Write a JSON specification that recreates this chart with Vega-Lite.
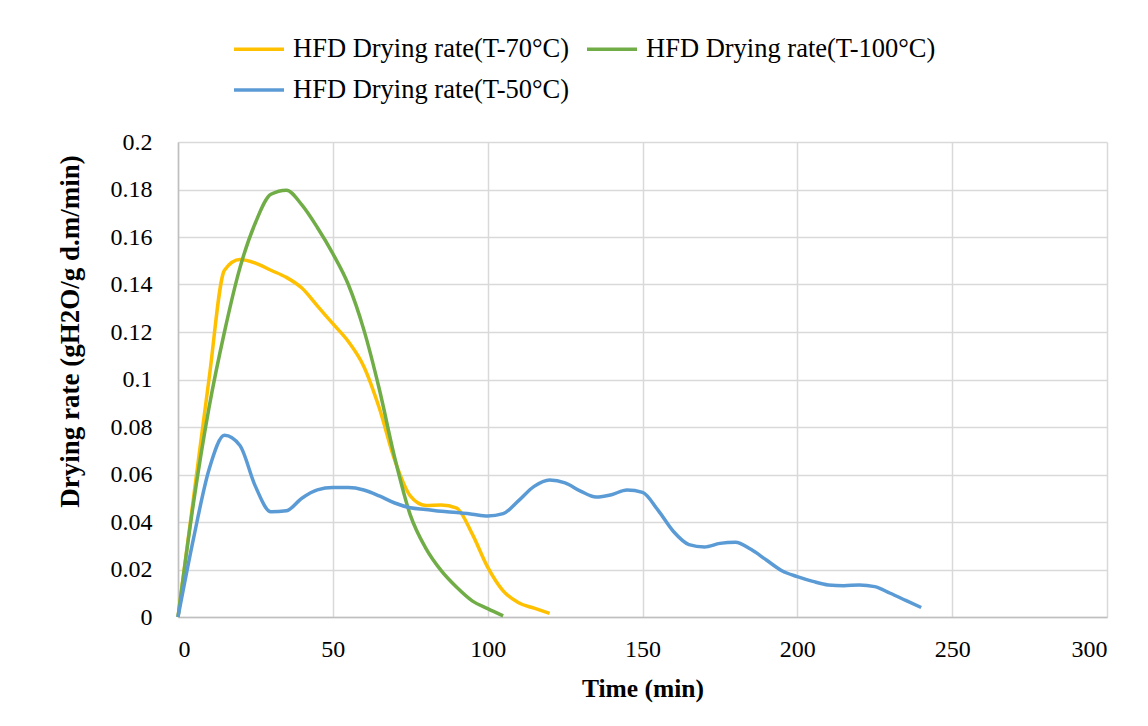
{
  "$schema": "https://vega.github.io/schema/vega-lite/v6.json",
  "width": 929,
  "height": 475,
  "autosize": {"type": "none"},
  "padding": {"left": 178, "top": 142, "right": 41, "bottom": 109},
  "background": "white",
  "config": {
    "font": "Liberation Serif",
    "view": {"stroke": null}
  },
  "datasets": {
    "t70": [
      {"t": 0, "v": 0}, {"t": 5, "v": 0.05}, {"t": 10, "v": 0.1}, {"t": 15, "v": 0.146},
      {"t": 20, "v": 0.1505}, {"t": 25, "v": 0.149}, {"t": 30, "v": 0.146}, {"t": 35, "v": 0.143},
      {"t": 40, "v": 0.1385}, {"t": 45, "v": 0.131}, {"t": 50, "v": 0.1235}, {"t": 55, "v": 0.116},
      {"t": 60, "v": 0.1055}, {"t": 65, "v": 0.088}, {"t": 70, "v": 0.066}, {"t": 75, "v": 0.051},
      {"t": 80, "v": 0.047}, {"t": 85, "v": 0.0472}, {"t": 90, "v": 0.0458}, {"t": 95, "v": 0.035},
      {"t": 100, "v": 0.021}, {"t": 105, "v": 0.011}, {"t": 110, "v": 0.006}, {"t": 115, "v": 0.0037},
      {"t": 120, "v": 0.0015}
    ],
    "t100": [
      {"t": 0, "v": 0}, {"t": 5, "v": 0.048}, {"t": 10, "v": 0.088}, {"t": 15, "v": 0.12},
      {"t": 20, "v": 0.147}, {"t": 25, "v": 0.166}, {"t": 30, "v": 0.178}, {"t": 35, "v": 0.1797},
      {"t": 40, "v": 0.1735}, {"t": 45, "v": 0.164}, {"t": 50, "v": 0.153}, {"t": 55, "v": 0.14},
      {"t": 60, "v": 0.121}, {"t": 65, "v": 0.096}, {"t": 70, "v": 0.067}, {"t": 75, "v": 0.043},
      {"t": 80, "v": 0.029}, {"t": 85, "v": 0.0195}, {"t": 90, "v": 0.0125}, {"t": 95, "v": 0.0068},
      {"t": 100, "v": 0.0035}, {"t": 105, "v": 0.0005}
    ],
    "t50": [
      {"t": 0, "v": 0}, {"t": 5, "v": 0.033}, {"t": 10, "v": 0.062}, {"t": 15, "v": 0.0765},
      {"t": 20, "v": 0.0722}, {"t": 25, "v": 0.055}, {"t": 30, "v": 0.0443}, {"t": 35, "v": 0.0447},
      {"t": 40, "v": 0.05}, {"t": 45, "v": 0.0535}, {"t": 50, "v": 0.0545}, {"t": 55, "v": 0.0545},
      {"t": 60, "v": 0.0535}, {"t": 65, "v": 0.051}, {"t": 70, "v": 0.048}, {"t": 75, "v": 0.046},
      {"t": 80, "v": 0.0453}, {"t": 85, "v": 0.0445}, {"t": 90, "v": 0.044}, {"t": 95, "v": 0.0433},
      {"t": 100, "v": 0.0425}, {"t": 105, "v": 0.0435}, {"t": 110, "v": 0.049}, {"t": 115, "v": 0.055},
      {"t": 120, "v": 0.0577}, {"t": 125, "v": 0.0565}, {"t": 130, "v": 0.053}, {"t": 135, "v": 0.0505},
      {"t": 140, "v": 0.0515}, {"t": 145, "v": 0.0535}, {"t": 150, "v": 0.0525}, {"t": 155, "v": 0.045},
      {"t": 160, "v": 0.036}, {"t": 165, "v": 0.0305}, {"t": 170, "v": 0.0295}, {"t": 175, "v": 0.031},
      {"t": 180, "v": 0.0315}, {"t": 185, "v": 0.0285}, {"t": 190, "v": 0.024}, {"t": 195, "v": 0.0195},
      {"t": 200, "v": 0.017}, {"t": 205, "v": 0.015}, {"t": 210, "v": 0.0135}, {"t": 215, "v": 0.0132},
      {"t": 220, "v": 0.0135}, {"t": 225, "v": 0.0128}, {"t": 230, "v": 0.01}, {"t": 235, "v": 0.007},
      {"t": 240, "v": 0.004}
    ]
  },
  "encoding": {
    "x": {
      "field": "t", "type": "quantitative",
      "scale": {"domain": [0, 300], "nice": false, "zero": true},
      "axis": {
        "title": "Time (min)", "values": [0, 50, 100, 150, 200, 250, 300],
        "grid": true, "gridColor": "#d9d9d9", "gridWidth": 1.5,
        "domainColor": "#bfbfbf", "domainWidth": 1.5, "ticks": false,
        "labelFont": "Liberation Serif", "labelFontSize": 24, "labelColor": "#000000", "labelPadding": 20,
        "titleFont": "Liberation Serif", "titleFontSize": 25.5, "titleFontWeight": "bold", "titleColor": "#000000", "titlePadding": 15
      }
    },
    "y": {
      "field": "v", "type": "quantitative",
      "scale": {"domain": [0, 0.2], "nice": false},
      "axis": {
        "title": "Drying rate (gH2O/g d.m/min)", "values": [0, 0.02, 0.04, 0.06, 0.08, 0.1, 0.12, 0.14, 0.16, 0.18, 0.2],
        "labelExpr": "datum.value == 0 ? '0' : format(datum.value, '~r')",
        "grid": true, "gridColor": "#d9d9d9", "gridWidth": 1.5,
        "domainColor": "#bfbfbf", "domainWidth": 1.5, "ticks": false,
        "labelFont": "Liberation Serif", "labelFontSize": 24, "labelColor": "#000000", "labelPadding": 26,
        "titleFont": "Liberation Serif", "titleFontSize": 27, "titleFontWeight": "bold", "titleColor": "#000000",
        "titleX": -94, "titleY": 189
      }
    },
    "color": {
      "field": "s", "type": "nominal",
      "scale": {
        "domain": ["HFD Drying rate(T-70°C)", "HFD Drying rate(T-100°C)", "HFD Drying rate(T-50°C)"],
        "range": ["#FFC000", "#70AD47", "#5B9BD5"]
      },
      "legend": {
        "title": null, "orient": "none", "legendX": 54, "legendY": -120,
        "direction": "horizontal", "columns": 2,
        "symbolType": "stroke", "symbolSize": 2500, "symbolStrokeWidth": 3.5,
        "labelFont": "Liberation Serif", "labelFontSize": 26.5, "labelColor": "#000000",
        "labelLimit": 400, "columnPadding": 10, "rowPadding": -4, "labelOffset": 7
      }
    }
  },
  "layer": [
    {"data": {"name": "t70"}, "transform": [{"calculate": "'HFD Drying rate(T-70°C)'", "as": "s"}],
     "mark": {"type": "line", "interpolate": "monotone", "strokeWidth": 3.5, "clip": false}},
    {"data": {"name": "t100"}, "transform": [{"calculate": "'HFD Drying rate(T-100°C)'", "as": "s"}],
     "mark": {"type": "line", "interpolate": "monotone", "strokeWidth": 3.5, "clip": false}},
    {"data": {"name": "t50"}, "transform": [{"calculate": "'HFD Drying rate(T-50°C)'", "as": "s"}],
     "mark": {"type": "line", "interpolate": "monotone", "strokeWidth": 3.5, "clip": false}}
  ]
}
